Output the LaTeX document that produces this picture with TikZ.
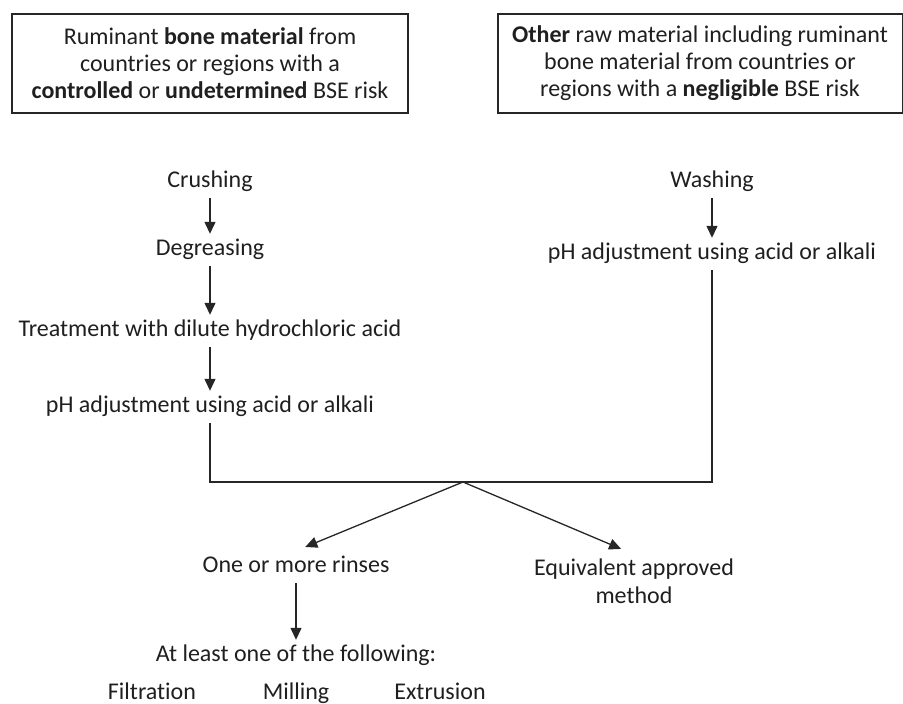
\documentclass[tikz,border=0pt]{standalone}
\usepackage{fontspec}
\setmainfont{Carlito}[Ligatures=NoCommon]
\usetikzlibrary{arrows.meta}
\begin{document}
\begin{tikzpicture}[x=1pt,y=-1pt,
  every node/.style={font=\fontsize{24}{27}\selectfont, text=black!88},
  srcbox/.style={draw=black!85, line width=2pt, align=center, inner sep=0pt},
  stepnode/.style={inner sep=5.5pt, text height=16pt, text depth=5pt, align=center},
  flow/.style={line width=1.3pt, draw=black!85},
  arr/.style={flow, -{Triangle[length=12pt,width=11pt]}}]
\useasboundingbox (0,0) rectangle (903,704);
\node[srcbox, minimum width=396pt, minimum height=99pt] (srcL) at (210,63.5)
  {Ruminant \textbf{bone material} from\\countries or regions with a\\\textbf{controlled} or \textbf{undetermined} BSE risk};
\node[srcbox, minimum width=405pt, minimum height=99pt] (srcR) at (700,63.5)
  {\textbf{Other} raw material including ruminant\\bone material from countries or\\regions with a \textbf{negligible} BSE risk};
\node[stepnode] (crush) at (210,182) {Crushing};
\node[stepnode] (degr) at (210,250) {Degreasing};
\node[stepnode] (acid) at (210,331) {Treatment with dilute hydrochloric acid};
\node[stepnode] (phL) at (210,407) {pH adjustment using acid or alkali};
\node[stepnode] (wash) at (712,182) {Washing};
\node[stepnode] (phR) at (712,254) {pH adjustment using acid or alkali};
\coordinate (j) at (463,482);
\node[stepnode] (rinse) at (296,567) {One or more rinses};
\node[align=center, inner sep=4pt, font=\fontsize{24}{28}\selectfont] (equiv) at (634,581) {Equivalent approved\\method};
\node[stepnode] (least) at (296,656) {At least one of the following:};
\node[stepnode] (filt) at (152,694) {Filtration};
\node[stepnode] (mill) at (296,694) {Milling};
\node[stepnode] (extr) at (440,694) {Extrusion};

\draw[arr] (crush) -- (degr);
\draw[arr] (degr) -- (acid);
\draw[arr] (acid) -- (phL);
\draw[arr] (wash) -- (phR);
\draw[flow] (phL.south) |- (j) -| (phR.south);
\draw[arr, shorten >=10pt] (j) -- (rinse.north);
\draw[arr, shorten >=14pt] (j) -- (equiv.north);
\draw[arr] (rinse) -- (least);
\end{tikzpicture}
\end{document}
